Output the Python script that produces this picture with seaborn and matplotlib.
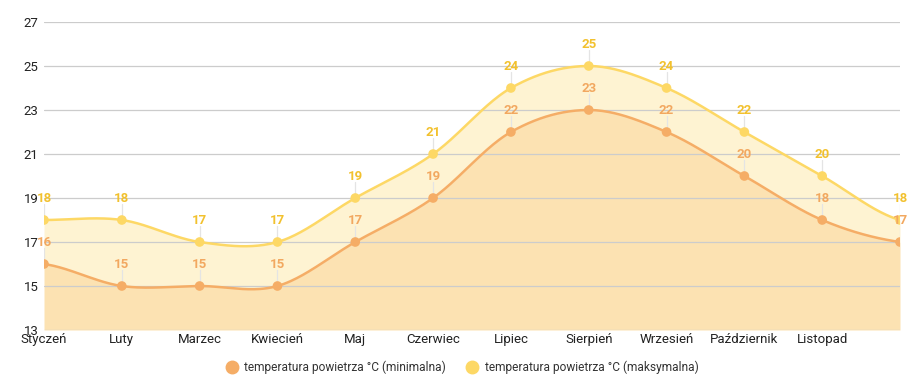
import numpy as np
import pandas as pd
import matplotlib
matplotlib.use('Agg')
import matplotlib.pyplot as plt
import seaborn as sns
from matplotlib.lines import Line2D

# dane
miesiace = ['Styczeń', 'Luty', 'Marzec', 'Kwiecień', 'Maj', 'Czerwiec', 'Lipiec',
            'Sierpień', 'Wrzesień', 'Październik', 'Listopad', 'Grudzień']
temp_min = [16, 15, 15, 15, 17, 19, 22, 23, 22, 20, 18, 17]
temp_max = [18, 18, 17, 17, 19, 21, 24, 25, 24, 22, 20, 18]
etykiety_osi = miesiace[:11]  # ostatnia etykieta nie miesci sie na wykresie
y_ticks = [13, 15, 17, 19, 21, 23, 25, 27]

lbl_min = 'temperatura powietrza °C (minimalna)'
lbl_max = 'temperatura powietrza °C (maksymalna)'

c_min, c_max = '#F5AD66', '#FDD865'
f_min, f_max = '#FCE2B2', '#FEF3D2'
t_min, t_max = '#F2A860', '#F2C12E'


# wygladzanie linii (spline Catmull-Rom)
def smooth(y, n=40):
    y = np.asarray(y, dtype=float)
    ext = np.concatenate([[y[0]], y, [y[-1]]])
    xs, ys = [], []
    for i in range(len(y) - 1):
        p0, p1, p2, p3 = ext[i], ext[i + 1], ext[i + 2], ext[i + 3]
        m1, m2 = (p2 - p0) / 2, (p3 - p1) / 2
        t = np.linspace(0, 1, n, endpoint=False)
        h00 = 2 * t**3 - 3 * t**2 + 1
        h10 = t**3 - 2 * t**2 + t
        h01 = -2 * t**3 + 3 * t**2
        h11 = t**3 - t**2
        xs.append(i + t)
        ys.append(h00 * p1 + h10 * m1 + h01 * p2 + h11 * m2)
    xs.append([len(y) - 1])
    ys.append([y[-1]])
    return np.concatenate(xs), np.concatenate(ys)


sns.set_theme(style='white')
plt.rcParams['font.family'] = ['Roboto', 'DejaVu Sans']

fig, ax = plt.subplots(figsize=(9.18, 3.92), dpi=100)
fig.subplots_adjust(left=44 / 918, right=900 / 918, bottom=1 - 330 / 392, top=1 - 22 / 392)

x = np.arange(len(miesiace))
sx, smin = smooth(temp_min)
_, smax = smooth(temp_max)
df_s = pd.DataFrame({'x': np.concatenate([sx, sx]),
                     'y': np.concatenate([smin, smax]),
                     'seria': [lbl_min] * len(sx) + [lbl_max] * len(sx)})
df_p = pd.DataFrame({'x': np.concatenate([x, x]),
                     'y': temp_min + temp_max,
                     'seria': [lbl_min] * len(x) + [lbl_max] * len(x)})

ax.fill_between(sx, 13, smin, color=f_min, lw=0, zorder=1)
ax.fill_between(sx, smin, smax, color=f_max, lw=0, zorder=1)

for v in y_ticks:
    ax.axhline(v, color='#CCCCCC', lw=0.9, zorder=2)

# linie prowadzace do etykiet
for i in x:
    ax.plot([i, i], [temp_min[i], temp_min[i] + 0.75], color='#E4E4E4', lw=0.9, zorder=2)
    ax.plot([i, i], [temp_max[i], temp_max[i] + 0.75], color='#E4E4E4', lw=0.9, zorder=2)

pal = {lbl_min: c_min, lbl_max: c_max}
sns.lineplot(data=df_s, x='x', y='y', hue='seria', palette=pal, lw=1.8, legend=False, ax=ax, zorder=3)
sns.scatterplot(data=df_p, x='x', y='y', hue='seria', palette=pal, s=48, linewidth=0,
                legend=False, ax=ax, zorder=4)

for i in x:
    ax.text(i, temp_min[i] + 1, str(temp_min[i]), color=t_min, ha='center', va='center',
            fontsize=9.5, fontweight='bold', zorder=5)
    ax.text(i, temp_max[i] + 1, str(temp_max[i]), color=t_max, ha='center', va='center',
            fontsize=9.5, fontweight='bold', zorder=5)

ax.set_xlim(0, len(miesiace) - 1)
ax.set_ylim(13, 27)
ax.set_xticks(range(len(etykiety_osi)))
ax.set_xticklabels(etykiety_osi, fontsize=9.5, color='#222222')
ax.set_yticks(y_ticks)
ax.set_yticklabels([str(v) for v in y_ticks], fontsize=9.5, color='#222222')
ax.tick_params(axis='both', length=0, pad=2)
ax.tick_params(axis='y', pad=4)
ax.set_xlabel('')
ax.set_ylabel('')
for s in ax.spines.values():
    s.set_visible(False)

handles = [Line2D([], [], marker='o', ls='', color=c_min, markersize=9),
           Line2D([], [], marker='o', ls='', color=c_max, markersize=9)]
fig.legend(handles, [lbl_min, lbl_max], loc='center', bbox_to_anchor=(0.5, 1 - 367 / 392),
           ncol=2, frameon=False, fontsize=8.6, handletextpad=0.05, columnspacing=1.2,
           labelcolor='#333333')

fig.savefig('out.png', dpi=100)
